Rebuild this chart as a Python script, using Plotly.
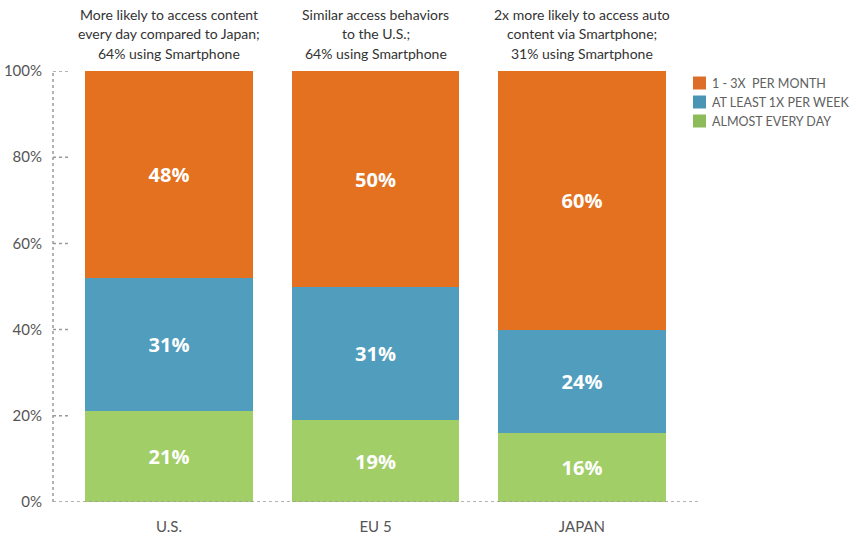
import plotly.graph_objects as go

# Data
regions = ["U.S.", "EU 5", "JAPAN"]
series_names = ["ALMOST EVERY DAY", "AT LEAST 1X PER WEEK", "1 - 3X  PER MONTH"]
almost_every_day = [21, 19, 16]
at_least_weekly = [31, 31, 24]
monthly = [48, 50, 60]
headers = [
    ["More likely to access content", "every day compared to Japan;", "64% using Smartphone"],
    ["Similar access behaviors", "to the U.S.;", "64% using Smartphone"],
    ["2x more likely to access auto", "content via Smartphone;", "31% using Smartphone"],
]
y_ticks = [0, 20, 40, 60, 80, 100]
y_tick_labels = [f"{t}%" for t in y_ticks]

bar_colors = ["#A1CE67", "#519DBD", "#E3711F"]
legend_colors = ["#8DBB5A", "#4A94B4", "#DD6E2A"]

FONT = "Lato"
W, H = 856, 543
M_L, M_R, M_T, M_B = 53, 158, 71, 41
PLOT_W = W - M_L - M_R
PLOT_H = H - M_T - M_B

fig = go.Figure()
for name, vals, col in zip(series_names, [almost_every_day, at_least_weekly, monthly], bar_colors):
    fig.add_trace(go.Bar(
        x=regions, y=vals, name=name,
        marker=dict(color=col, line=dict(width=0)),
        width=0.8136,
        text=[f"{v}%" for v in vals],
        textposition="inside",
        insidetextanchor="middle",
        textangle=0,
        textfont=dict(family="Open Sans", size=20, color="white", weight="bold"),
        showlegend=False,
        hoverinfo="skip",
    ))


def px_x(px):
    return (px - M_L) / PLOT_W


def px_y(py):
    return (H - M_B - py) / PLOT_H


shapes = []
dot = dict(color="#9A9A9A", width=1.5, dash="dot")
# dotted y axis line and short tick marks
shapes.append(dict(type="line", xref="paper", yref="y", x0=0, x1=0, y0=0, y1=100, line=dot, layer="below"))
for t in y_ticks[1:]:
    shapes.append(dict(type="line", xref="paper", yref="y", x0=0, x1=17 / PLOT_W, y0=t, y1=t, line=dot, layer="below"))
# dotted baseline
shapes.append(dict(type="line", xref="paper", yref="y", x0=0, x1=1, y0=0, y1=0, line=dot, layer="above"))

annotations = []
# column headers above each bar, one annotation per line
line_y = [15, 34, 53]
for reg, lines in zip(regions, headers):
    for ly, txt in zip(line_y, lines):
        annotations.append(dict(
            x=reg, xref="x", y=px_y(ly), yref="paper", yanchor="middle", xanchor="center",
            text=txt, showarrow=False,
            font=dict(family=FONT, size=14, color="#333333"),
        ))

# legend drawn as swatches and labels, top row first
row_y = [83, 102, 121]
for i, (name, col) in enumerate(zip(series_names[::-1], legend_colors[::-1])):
    cy = row_y[i]
    shapes.append(dict(type="rect", xref="paper", yref="paper",
                       x0=px_x(693), x1=px_x(706), y0=px_y(cy + 6.5), y1=px_y(cy - 6.5),
                       fillcolor=col, line=dict(width=0)))
    annotations.append(dict(
        x=px_x(710), xref="paper", y=px_y(cy), yref="paper",
        xanchor="left", yanchor="middle", text=name, showarrow=False,
        font=dict(family=FONT, size=12.5, color="#606060"),
    ))

fig.update_layout(
    width=W, height=H,
    margin=dict(l=M_L, r=M_R, t=M_T, b=M_B, pad=0, autoexpand=False),
    paper_bgcolor="white", plot_bgcolor="white",
    barmode="stack", bargap=0,
    showlegend=False,
    shapes=shapes,
    annotations=annotations,
    uniformtext=dict(mode="show", minsize=10),
    xaxis=dict(
        range=[-0.562, 2.562], showgrid=False, zeroline=False, showline=False,
        ticks="", tickfont=dict(family=FONT, size=15, color="#555555"),
        ticklabelstandoff=14, fixedrange=True, automargin=False,
    ),
    yaxis=dict(
        range=[0, 100], tickvals=y_ticks, ticktext=y_tick_labels,
        showgrid=False, zeroline=False, showline=False, ticks="",
        tickfont=dict(family=FONT, size=15, color="#555555"),
        ticklabelstandoff=10, fixedrange=True, automargin=False,
    ),
)

fig.write_html("out.html")
